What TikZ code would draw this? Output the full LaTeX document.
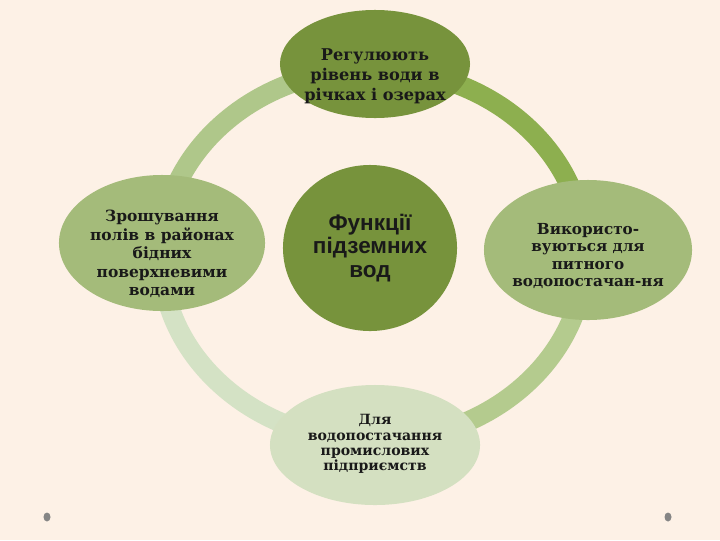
\documentclass[tikz,border=0pt]{standalone}
\usepackage{fontspec}
\setmainfont{DejaVu Serif}
\newfontfamily\centrefont{Liberation Sans}
\usetikzlibrary{shapes.geometric}
\definecolor{cream}{HTML}{FDF1E6}
\definecolor{olive}{HTML}{77933C}
\definecolor{leaf}{HTML}{A4BB7A}
\definecolor{pale}{HTML}{D4E0C1}
\definecolor{arcA}{HTML}{AFC78A}
\definecolor{arcB}{HTML}{8DAF4F}
\definecolor{arcC}{HTML}{B4CB8E}
\definecolor{arcD}{HTML}{D4E2C5}
\definecolor{dotgrey}{HTML}{858585}
\begin{document}
\begin{tikzpicture}[x=0.025cm,y=-0.025cm,
    blob/.style={ellipse,fill=#1,inner sep=0pt},
    caption/.style={align=center,inner sep=0pt,text=black!90,font=\bfseries},
    ringpart/.style={draw=#1,line width=14.2pt}]
\fill[cream] (0,0) rectangle (720,540);
\coordinate (ctr) at (373,255);
% ring behind the ellipses
\draw[ringpart=arcA] ([shift={(-212,0)}]ctr) arc[start angle=180,end angle=270,x radius=212,y radius=186];
\draw[ringpart=arcB] ([shift={(0,-186)}]ctr) arc[start angle=270,end angle=360,x radius=212,y radius=186];
\draw[ringpart=arcC] ([shift={(212,0)}]ctr) arc[start angle=0,end angle=90,x radius=212,y radius=186];
\draw[ringpart=arcD] ([shift={(0,186)}]ctr) arc[start angle=90,end angle=180,x radius=212,y radius=186];
% ellipses
\node[blob=olive,minimum width=4.75cm,minimum height=2.7cm] (top) at (375,64) {};
\node[blob=leaf,minimum width=5.15cm,minimum height=3.4cm] (left) at (162,243) {};
\node[blob=leaf,minimum width=5.2cm,minimum height=3.5cm] (right) at (588,250) {};
\node[blob=pale,minimum width=5.25cm,minimum height=3cm] (bottom) at (375,445) {};
\node[blob=olive,minimum width=4.35cm,minimum height=4.15cm] (mid) at (370,248) {};
% texts
\node[caption,font=\bfseries\fontsize{11.5}{14.2}\selectfont] (top-t) at ([shift={(0,12)}]top.center) {Регулюють\\рівень води в\\річках і озерах};
\node[caption,font=\bfseries\fontsize{11}{13.2}\selectfont] (left-t) at ([shift={(0,11)}]left.center) {Зрошування\\полів в районах\\бідних\\поверхневими\\водами};
\node[caption,font=\bfseries\fontsize{10.8}{12.4}\selectfont] (right-t) at ([shift={(0,6)}]right.center) {Використо-\\вуються для\\питного\\водопостачан-ня};
\node[caption,font=\bfseries\fontsize{10}{10.8}\selectfont] (bottom-t) at ([shift={(0,-1)}]bottom.center) {Для\\водопостачання\\промислових\\підприємств};
\node[caption,font=\centrefont\bfseries\fontsize{16}{16.5}\selectfont] (mid-t) at (mid.center) {Функції\\підземних\\вод};
% corner dots
\fill[dotgrey] (47,517) ellipse[x radius=3.5,y radius=4.5];
\fill[dotgrey] (668,517) ellipse[x radius=3.5,y radius=4.5];
\end{tikzpicture}
\end{document}
